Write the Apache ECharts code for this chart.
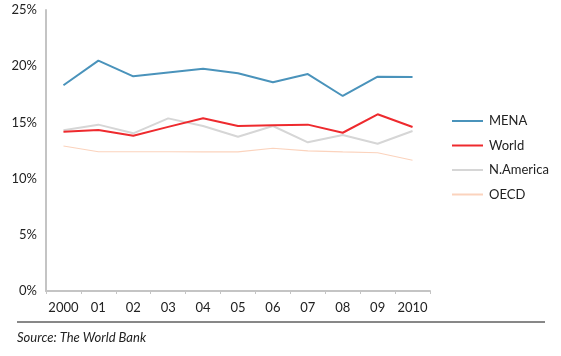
<!DOCTYPE html>
<html><head><meta charset="utf-8">
<script src="https://cdn.jsdelivr.net/npm/echarts@6/dist/echarts.min.js"></script>
<style>html,body{margin:0;padding:0;background:#fff}#c{width:561px;height:356px}</style>
</head><body><div id="c"></div>
<script>
const years = ['2000','01','02','03','04','05','06','07','08','09','2010'];
const mena = [18.3, 20.5, 19.1, 19.45, 19.78, 19.37, 18.57, 19.3, 17.35, 19.07, 19.04];
const world = [14.17, 14.32, 13.82, 14.6, 15.37, 14.68, 14.74, 14.8, 14.08, 15.72, 14.59];
const namerica = [14.3, 14.8, 14.03, 15.36, 14.68, 13.73, 14.68, 13.23, 13.88, 13.1, 14.23];
const oecd = [12.9, 12.39, 12.39, 12.39, 12.37, 12.37, 12.7, 12.46, 12.37, 12.3, 11.63];
const names = ['MENA','World','N.America','OECD'];
const colors = ['#4a93bb','#ee2a2e','#d6d6d6','#fbd3bd'];
const widths = [2, 2, 2, 1.2];
const vals = [mena, world, namerica, oecd];

const chart = echarts.init(document.getElementById('c'));
const font = 'Lato, "Open Sans", sans-serif';
chart.setOption({
  animation:false,
  textStyle:{fontFamily:font},
  grid:{left:46, right:131, top:10, bottom:65},
  xAxis:{type:'category', data:years, boundaryGap:true,
    axisLine:{lineStyle:{color:'#c4c4c4', width:2}},
    axisTick:{show:true, length:3, interval:0, lineStyle:{color:'#c4c4c4'}},
    axisLabel:{color:'#222', fontSize:13, margin:10, interval:0, fontFamily:font}},
  yAxis:{type:'value', min:0, max:25, interval:5,
    splitLine:{show:false},
    axisLine:{show:true, lineStyle:{color:'#c4c4c4', width:2}},
    axisTick:{show:false},
    axisLabel:{color:'#222', fontSize:13, margin:9, formatter:'{value}%', fontFamily:font}},
  legend:{orient:'vertical', left:447, top:108, itemWidth:31, itemHeight:2, itemGap:8.5,
    icon:'rect', data:names,
    textStyle:{color:'#222', fontSize:13, lineHeight:16, fontFamily:font, padding:[0,0,0,1]}},
  series: names.map((n,i)=>({name:n, type:'line', data:vals[i], showSymbol:false, symbol:'none',
    color:colors[i], lineStyle:{color:colors[i], width:widths[i]}, z: 10-i})),
  graphic:[
    {type:'line', shape:{x1:17,y1:322,x2:545,y2:322}, style:{stroke:'#111', lineWidth:1}},
    {type:'text', left:17, top:331, style:{text:'Source: The World Bank', font:'italic 13px '+font, fill:'#222'}}
  ]
});
</script></body></html>
